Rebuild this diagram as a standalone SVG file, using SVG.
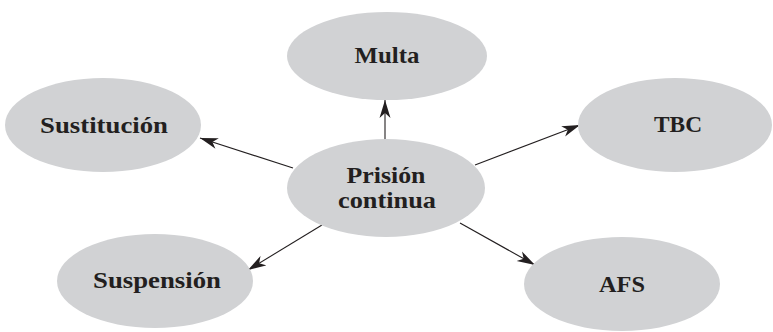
<svg xmlns="http://www.w3.org/2000/svg" width="773" height="332" viewBox="0 0 773 332">
<style>
.node ellipse{fill:#d1d2d4;}
.node text{font-family:"Liberation Serif","Times New Roman",serif;font-weight:bold;font-size:23px;fill:#231f20;text-anchor:middle;}
.conn line{stroke:#231f20;stroke-width:1.1;fill:none;marker-end:url(#ah);}
</style>
<defs>
<marker id="ah" markerUnits="userSpaceOnUse" markerWidth="19" markerHeight="12" refX="18" refY="6" orient="auto">
<path d="M0,0.5 L18,6 L0,11.5 L5,6 Z" fill="#231f20"/>
</marker>
</defs>
<rect width="773" height="332" fill="#ffffff"/>
<g id="connectors" class="conn">
<line x1="385" y1="143" x2="385" y2="100"/>
<line x1="293" y1="168" x2="200" y2="138"/>
<line x1="475" y1="165" x2="580" y2="125"/>
<line x1="322" y1="225" x2="248" y2="270"/>
<line x1="460" y1="223" x2="535" y2="265"/>
</g>
<g id="node-multa" class="node">
<ellipse cx="387" cy="56" rx="100" ry="44"/>
<text x="387" y="63" textLength="65" lengthAdjust="spacingAndGlyphs">Multa</text>
</g>
<g id="node-prision" class="node">
<ellipse cx="386" cy="188" rx="99" ry="49"/>
<text x="386" y="183" textLength="79" lengthAdjust="spacingAndGlyphs">Prisión</text>
<text x="387" y="208" textLength="98" lengthAdjust="spacingAndGlyphs">continua</text>
</g>
<g id="node-sustitucion" class="node">
<ellipse cx="103" cy="125" rx="98" ry="47"/>
<text x="104" y="133" textLength="128" lengthAdjust="spacingAndGlyphs">Sustitución</text>
</g>
<g id="node-tbc" class="node">
<ellipse cx="675" cy="125" rx="97" ry="47"/>
<text x="678" y="132" textLength="48" lengthAdjust="spacingAndGlyphs">TBC</text>
</g>
<g id="node-suspension" class="node">
<ellipse cx="155" cy="281" rx="98" ry="47"/>
<text x="157" y="288" textLength="128" lengthAdjust="spacingAndGlyphs">Suspensión</text>
</g>
<g id="node-afs" class="node">
<ellipse cx="622" cy="284" rx="98" ry="47"/>
<text x="622" y="292" textLength="46" lengthAdjust="spacingAndGlyphs">AFS</text>
</g>
</svg>
